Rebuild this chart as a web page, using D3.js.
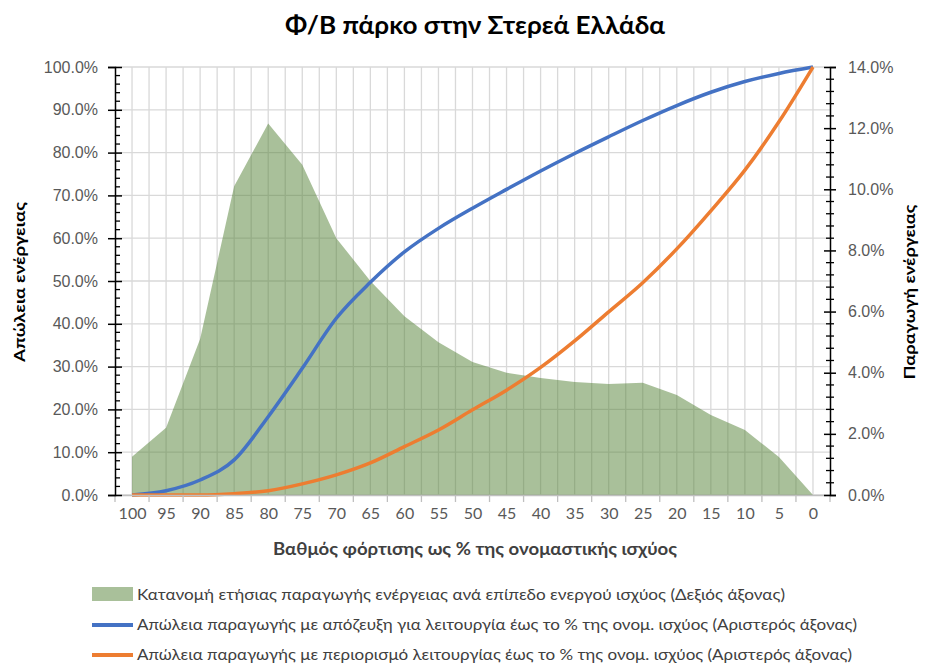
<!DOCTYPE html>
<html><head><meta charset="utf-8">
<script src="https://cdn.jsdelivr.net/npm/d3@7"></script>
<style>body{margin:0;background:#fff;} svg{display:block;font-family:Lato,"Open Sans",sans-serif;}</style>
</head><body>
<script>
const categories = ["100","95","90","85","80","75","70","65","60","55","50","45","40","35","30","25","20","15","10","5","0"];
// Right axis (%): distribution of annual energy production per active power level
const production = [1.25,2.2,5.1,10.1,12.15,10.8,8.4,7.0,5.85,5.0,4.35,4.0,3.83,3.7,3.63,3.67,3.27,2.62,2.13,1.24,0];
// Left axis (%): loss with disconnection
const lossDisconnect = [0,1.0,3.5,8.2,18.3,29.6,41.3,49.7,56.8,62.3,67.0,71.4,75.7,79.8,83.7,87.5,91.0,94.1,96.6,98.5,100];
// Left axis (%): loss with curtailment
const lossCurtail = [0,0,0,0.3,1.0,2.6,4.7,7.5,11.3,15.2,19.9,24.5,29.8,36.0,42.8,49.6,57.5,66.4,75.9,87.2,100];
const leftTicks = [0,10,20,30,40,50,60,70,80,90,100];
const rightTicks = [0,2,4,6,8,10,12,14];
const title = "Φ/Β πάρκο στην Στερεά Ελλάδα";
const xTitle = "Βαθμός φόρτισης ως % της ονομαστικής ισχύος";
const yLeftTitle = "Απώλεια ενέργειας";
const yRightTitle = "Παραγωγή ενέργειας";
const legendLabels = [
 "Κατανομή ετήσιας παραγωγής ενέργειας  ανά επίπεδο ενεργού ισχύος (Δεξιός άξονας)",
 "Απώλεια παραγωγής με απόζευξη για λειτουργία έως το % της ονομ. ισχύος (Αριστερός άξονας)",
 "Απώλεια παραγωγής με περιορισμό λειτουργίας έως το % της ονομ. ισχύος (Αριστερός άξονας)"
];

const W=925,H=664;
const L=115,R=830,T=67,B=495;
const svg=d3.select("body").append("svg").attr("width",W).attr("height",H);

const x=d3.scalePoint().domain(categories).range([L,R]).padding(0.5);
const step=x.step();
const yL=d3.scaleLinear().domain([0,100]).range([B,T]);
const yR=d3.scaleLinear().domain([0,14]).range([B,T]);

// gridlines
const g=svg.append("g");
const vlines=[];
for(let i=0;i<=categories.length*2;i++) vlines.push(L+i*step/2);
g.selectAll(".vg").data(vlines.slice(1,-1)).join("line")
 .attr("x1",d=>d).attr("x2",d=>d).attr("y1",T).attr("y2",B)
 .attr("stroke","#d9d9d9").attr("stroke-width",1.3);
g.selectAll(".hg").data(leftTicks).join("line")
 .attr("x1",L).attr("x2",R).attr("y1",d=>yL(d)).attr("y2",d=>yL(d))
 .attr("stroke","#d9d9d9").attr("stroke-width",1.3);

// area
const area=d3.area().x((d,i)=>x(categories[i])).y0(B).y1(d=>yR(d));
svg.append("path").datum(production).attr("d",area)
 .attr("fill","#548235").attr("fill-opacity",0.5);

// lines
const line=yv=>d3.line().x((d,i)=>x(categories[i])).y(d=>yv(d)).curve(d3.curveMonotoneX);
svg.append("path").datum(lossDisconnect).attr("d",line(yL)).attr("fill","none")
 .attr("stroke","#4472C4").attr("stroke-width",3.5).attr("stroke-linejoin","round");
svg.append("path").datum(lossCurtail).attr("d",line(yL)).attr("fill","none")
 .attr("stroke","#ED7D31").attr("stroke-width",3.5).attr("stroke-linejoin","round");

// x axis
const xa=d3.axisBottom(x).tickSize(0).tickPadding(13);
const xg=svg.append("g").attr("transform",`translate(0,${B})`).call(xa);
xg.select(".domain").attr("stroke","#bfbfbf").attr("stroke-width",1.3);
xg.selectAll("text").attr("fill","#595959").attr("font-size",16).attr("font-family","Lato");
const xb=[];for(let i=0;i<=categories.length;i++) xb.push(L+i*step);
svg.selectAll(".xt").data(xb).join("line").attr("x1",d=>d).attr("x2",d=>d)
 .attr("y1",B).attr("y2",B+7).attr("stroke","#bfbfbf").attr("stroke-width",1.3);

// left axis
const la=d3.axisLeft(yL).tickValues(leftTicks).tickFormat(d=>d.toFixed(1)+"%").tickSize(7).tickPadding(10);
const lg=svg.append("g").attr("transform",`translate(${L},0)`).call(la);
lg.select(".domain").attr("stroke","#000").attr("stroke-width",1.5);
lg.selectAll(".tick line").attr("x2",-7).attr("x1",7).attr("stroke","#000").attr("stroke-width",1.5);
lg.selectAll("text").attr("fill","#595959").attr("font-size",16);
const lMinor=d3.range(0,100,2).filter(v=>v%10!==0);
svg.selectAll(".lm").data(lMinor).join("line").attr("x1",L).attr("x2",L+5)
 .attr("y1",d=>yL(d)).attr("y2",d=>yL(d)).attr("stroke","#000").attr("stroke-width",1.3);

// right axis
const ra=d3.axisRight(yR).tickValues(rightTicks).tickFormat(d=>d.toFixed(1)+"%").tickSize(6).tickPadding(12);
const rg=svg.append("g").attr("transform",`translate(${R},0)`).call(ra);
rg.select(".domain").attr("stroke","#000").attr("stroke-width",1.5);
rg.selectAll(".tick line").attr("x1",-6).attr("stroke","#000").attr("stroke-width",1.5);
rg.selectAll("text").attr("fill","#595959").attr("font-size",16);
const rMinor=d3.range(0,14,0.4).filter(v=>Math.abs(v/2-Math.round(v/2))>0.01);
svg.selectAll(".rm").data(rMinor).join("line").attr("x1",R-4).attr("x2",R+4)
 .attr("y1",d=>yR(d)).attr("y2",d=>yR(d)).attr("stroke","#000").attr("stroke-width",1.3);

// titles
svg.append("text").attr("x",475).attr("y",34).attr("text-anchor","middle")
 .attr("font-size",24).attr("font-weight","bold").attr("fill","#000")
 .attr("textLength",380).attr("lengthAdjust","spacingAndGlyphs").text(title);
svg.append("text").attr("x",475).attr("y",555).attr("text-anchor","middle")
 .attr("font-size",16.5).attr("font-weight","bold").attr("fill","#404040")
 .attr("textLength",404).attr("lengthAdjust","spacingAndGlyphs").text(xTitle);
svg.append("text").attr("transform","translate(25,282) rotate(-90)").attr("text-anchor","middle")
 .attr("font-size",15).attr("font-weight","bold").attr("fill","#000")
 .attr("textLength",160).attr("lengthAdjust","spacingAndGlyphs").text(yLeftTitle);
svg.append("text").attr("transform","translate(915,292) rotate(-90)").attr("text-anchor","middle")
 .attr("font-size",15).attr("font-weight","bold").attr("fill","#000")
 .attr("textLength",175).attr("lengthAdjust","spacingAndGlyphs").text(yRightTitle);

// legend
const ly=[595,625,655];
const lgd=svg.append("g");
lgd.append("rect").attr("x",92).attr("y",ly[0]-8).attr("width",41).attr("height",14).attr("fill","#548235").attr("fill-opacity",0.5);
lgd.append("line").attr("x1",92).attr("x2",133).attr("y1",ly[1]).attr("y2",ly[1]).attr("stroke","#4472C4").attr("stroke-width",4);
lgd.append("line").attr("x1",92).attr("x2",133).attr("y1",ly[2]).attr("y2",ly[2]).attr("stroke","#ED7D31").attr("stroke-width",4);
const ends=[785,857,852];
legendLabels.forEach((t,i)=>{
 lgd.append("text").attr("x",137).attr("y",ly[i]+5).attr("font-size",15).attr("fill","#404040")
  .attr("textLength",ends[i]-137).attr("lengthAdjust","spacingAndGlyphs").text(t);
});
</script>
</body></html>
